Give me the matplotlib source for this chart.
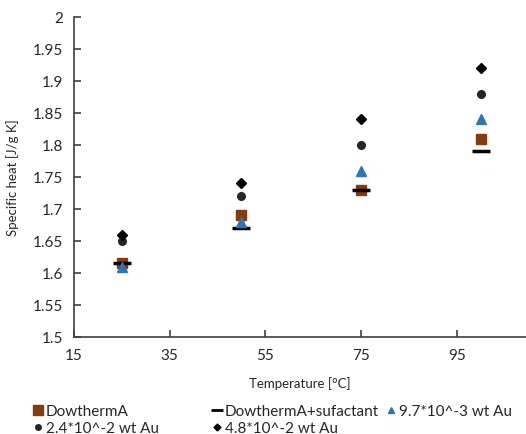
import matplotlib.pyplot as plt
from matplotlib.lines import Line2D

plt.rcParams['font.family'] = ['Lato', 'DejaVu Sans']

temps = [25, 50, 75, 100]
dowtherm = [1.615, 1.69, 1.73, 1.81]
surfactant = [1.615, 1.67, 1.73, 1.79]
au_97e3 = [1.61, 1.68, 1.76, 1.84]
au_24e2 = [1.65, 1.72, 1.80, 1.88]
au_48e2 = [1.66, 1.74, 1.84, 1.92]
labels = ['DowthermA', 'DowthermA+sufactant', '9.7*10^-3 wt Au',
          '2.4*10^-2 wt Au', '4.8*10^-2 wt Au']

fig = plt.figure(figsize=(5.26, 4.35), dpi=100)
ax = fig.add_axes([74/526, 97/435, 452/526, 320/435])

ax.plot(temps, dowtherm, 's', color='#843C0C', ms=7, ls='none', label=labels[0])
ax.plot(temps, surfactant, '_', color='black', ms=13, mew=2.5, ls='none', label=labels[1])
ax.plot(temps, au_97e3, '^', color='#2E75B6', ms=7, ls='none', label=labels[2])
ax.plot(temps, au_24e2, 'o', color='#262626', ms=5.5, ls='none', label=labels[3])
ax.plot(temps, au_48e2, 'D', color='black', ms=5.5, ls='none', label=labels[4])

ax.set_xlim(15, 109.5)
ax.set_ylim(1.5, 2.0)
ax.set_xticks([15, 35, 55, 75, 95])
ax.set_yticks([1.5, 1.55, 1.6, 1.65, 1.7, 1.75, 1.8, 1.85, 1.9, 1.95, 2.0])
ax.set_yticklabels(['1.5', '1.55', '1.6', '1.65', '1.7', '1.75', '1.8', '1.85', '1.9', '1.95', '2'])
for s in ['top', 'right']:
    ax.spines[s].set_visible(False)
for s in ['left', 'bottom']:
    ax.spines[s].set_color('#404040')
    ax.spines[s].set_linewidth(1.2)
ax.tick_params(direction='in', length=5, width=1.2, color='#404040',
               labelsize=11, labelcolor='#262626', pad=8)
ax.set_xlabel('Temperature [°C]', fontsize=9.5, color='#262626', labelpad=10)
ax.set_ylabel('Specific heat [J/g K]', fontsize=9.5, color='#262626', labelpad=10)

# legend: Excel style, three equal columns, one legend per column
handles = [Line2D([], [], marker='s', color='#843C0C', ms=7, ls='none'),
           Line2D([], [], marker='_', color='black', ms=8, mew=2, ls='none'),
           Line2D([], [], marker='^', color='#2E75B6', ms=5, ls='none'),
           Line2D([], [], marker='o', color='#262626', ms=4, ls='none'),
           Line2D([], [], marker='D', color='black', ms=3.5, ls='none')]
columns = [[0, 3], [1, 4], [2]]
col_x = [33, 212, 386]
for idx, x in zip(columns, col_x):
    leg = fig.legend([handles[i] for i in idx], [labels[i] for i in idx],
                     loc='upper left', bbox_to_anchor=(x/526, 1 - 405/435),
                     frameon=False, fontsize=11, handlelength=0.6, handletextpad=0.25,
                     borderpad=0, borderaxespad=0, labelspacing=0.2,
                     labelcolor='#262626')

fig.savefig('out.png', dpi=100)
